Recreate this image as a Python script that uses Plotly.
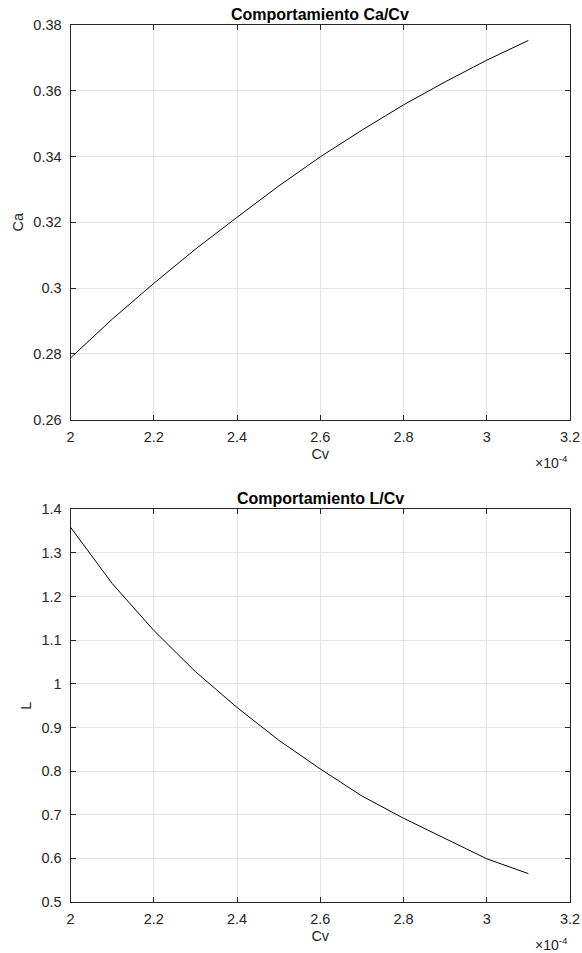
import plotly.graph_objects as go

# Cv values (x 1e-4) and the two computed responses
cv = [2.0e-4, 2.1e-4, 2.2e-4, 2.3e-4, 2.4e-4, 2.5e-4, 2.6e-4, 2.7e-4, 2.8e-4, 2.9e-4, 3.0e-4, 3.1e-4]
ca = [0.2787, 0.2905, 0.3014, 0.3118, 0.3215, 0.3310, 0.3399, 0.3480, 0.3557, 0.3627, 0.3693, 0.3753]
L = [1.359, 1.230, 1.1225, 1.028, 0.946, 0.871, 0.805, 0.743, 0.692, 0.645, 0.599, 0.565]

x_ticks = [2.0e-4, 2.2e-4, 2.4e-4, 2.6e-4, 2.8e-4, 3.0e-4, 3.2e-4]
x_tick_text = ["2", "2.2", "2.4", "2.6", "2.8", "3", "3.2"]
ca_ticks = [0.26, 0.28, 0.30, 0.32, 0.34, 0.36, 0.38]
ca_tick_text = ["0.26", "0.28", "0.3", "0.32", "0.34", "0.36", "0.38"]
L_ticks = [0.5, 0.6, 0.7, 0.8, 0.9, 1.0, 1.1, 1.2, 1.3, 1.4]
L_tick_text = ["0.5", "0.6", "0.7", "0.8", "0.9", "1", "1.1", "1.2", "1.3", "1.4"]

W, H = 582, 953
FONT = "Liberation Sans, Arial, Helvetica, sans-serif"
AX = "#262626"
GRID = "#e3e3e3"
TICK_SIZE = 14.5

x_dom = [70.5 / W, 570 / W]
top_dom = [1 - 419.5 / H, 1 - 25 / H]
bot_dom = [1 - 902 / H, 1 - 509.3 / H]

fig = go.Figure()
fig.add_trace(go.Scatter(x=cv, y=ca, mode="lines", line=dict(color="black", width=1),
                         xaxis="x", yaxis="y", showlegend=False))
fig.add_trace(go.Scatter(x=cv, y=L, mode="lines", line=dict(color="black", width=1),
                         xaxis="x2", yaxis="y2", showlegend=False))

common = dict(showline=True, linecolor=AX, linewidth=1, mirror="ticks",
              ticks="inside", ticklen=5, tickcolor=AX, tickwidth=1,
              showgrid=True, gridcolor=GRID, gridwidth=1, zeroline=False,
              automargin=False,
              tickfont=dict(family=FONT, size=TICK_SIZE, color=AX))
label_font = dict(family=FONT, size=TICK_SIZE, color=AX)

fig.update_layout(
    width=W, height=H,
    margin=dict(l=0, r=0, t=0, b=0),
    paper_bgcolor="white", plot_bgcolor="white",
    xaxis=dict(domain=x_dom, anchor="y", range=[2.0e-4, 3.2e-4],
               tickvals=x_ticks, ticktext=x_tick_text, ticklabelstandoff=4,
               title=dict(text="Cv", font=label_font, standoff=4),
               **common),
    yaxis=dict(domain=top_dom, anchor="x", range=[0.26, 0.38],
               tickvals=ca_ticks, ticktext=ca_tick_text, ticklabelstandoff=5,
               title=dict(text="Ca", font=label_font, standoff=6),
               **common),
    xaxis2=dict(domain=x_dom, anchor="y2", range=[2.0e-4, 3.2e-4],
                tickvals=x_ticks, ticktext=x_tick_text, ticklabelstandoff=4,
                title=dict(text="Cv", font=label_font, standoff=4),
                **common),
    yaxis2=dict(domain=bot_dom, anchor="x2", range=[0.5, 1.4],
                tickvals=L_ticks, ticktext=L_tick_text, ticklabelstandoff=5,
                title=dict(text="L", font=label_font, standoff=6),
                **common),
)

titles = [("<b>Comportamiento Ca/Cv</b>", top_dom[1]), ("<b>Comportamiento L/Cv</b>", bot_dom[1])]
for text, ytop in titles:
    fig.add_annotation(text=text, xref="paper", yref="paper",
                       x=(x_dom[0] + x_dom[1]) / 2, y=ytop, yshift=0,
                       xanchor="center", yanchor="bottom", showarrow=False,
                       font=dict(family=FONT, size=16, color="black"))

for ybot in (top_dom[0], bot_dom[0]):
    fig.add_annotation(text="\u00d710<sup>-4</sup>", xref="paper", yref="paper",
                       x=x_dom[1], y=ybot, yshift=-31, xanchor="right", yanchor="top",
                       showarrow=False, font=dict(family=FONT, size=14, color=AX))

fig.write_html("out.html")
